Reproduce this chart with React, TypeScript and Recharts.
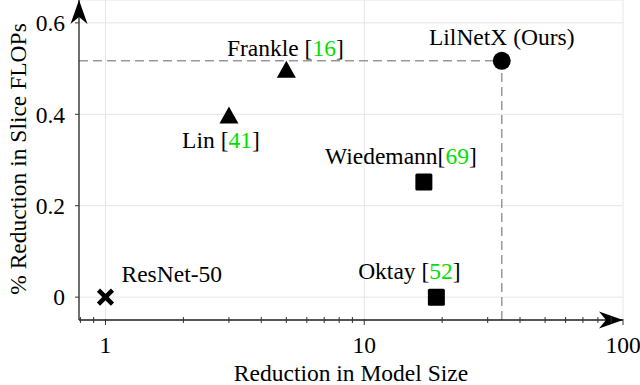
import React from 'react'
import {
  ScatterChart, Scatter, XAxis, YAxis, CartesianGrid, ReferenceLine, ReferenceDot, Label,
} from 'recharts'

// data
const methods = ['ResNet-50', 'Lin ', 'Frankle ', 'Wiedemann', 'Oktay ', 'LilNetX (Ours)']
const citations = ['', '41', '16', '69', '52', '']
const markers = ['cross', 'triangle', 'triangle', 'square', 'square', 'circle']
const modelSizeReduction = [1, 3, 5, 17, 19, 34]
const flopsReduction = [0, 0.395, 0.495, 0.252, 0, 0.517]

const xTicks = [0.8, 0.9, 1, 2, 3, 4, 5, 6, 7, 8, 9, 10, 20, 30, 40, 50, 60, 70, 80, 90, 100]
const xMajorTicks = [1, 10, 100]
const yTicks = [0, 0.2, 0.4, 0.6]

const X_DOMAIN: [number, number] = [0.79, 100]
const Y_DOMAIN: [number, number] = [-0.05, 0.65]

const FONT = 'Liberation Serif, Times New Roman, Times, serif'
const FS = 23.5
const CITE_GREEN = '#00e000'
const txt = { fontFamily: FONT, fontSize: FS }

// where each label sits relative to its marker
const labelPlacement: Record<string, { dx: number; dy: number; anchor: 'start' | 'middle' | 'end' }> = {
  'ResNet-50': { dx: 16, dy: -15, anchor: 'start' },
  'Lin ': { dx: -8, dy: 31, anchor: 'middle' },
  'Frankle ': { dx: -1, dy: -15, anchor: 'middle' },
  'Wiedemann': { dx: -23, dy: -18, anchor: 'middle' },
  'Oktay ': { dx: -27, dy: -18, anchor: 'middle' },
  'LilNetX (Ours)': { dx: 0, dy: -16, anchor: 'middle' },
}

const points = methods.map((m, i) => ({
  x: modelSizeReduction[i],
  y: flopsReduction[i],
  name: m,
  cite: citations[i],
  marker: markers[i],
}))
const ours = points[points.length - 1]

function Marker(props: any) {
  const { cx, cy, payload } = props
  if (cx == null || cy == null) return null
  let shape: React.ReactNode = null
  if (payload.marker === 'cross') {
    shape = (
      <g stroke="#000" strokeWidth={4.5}>
        <line x1={cx - 7} y1={cy - 7} x2={cx + 7} y2={cy + 7} />
        <line x1={cx - 7} y1={cy + 7} x2={cx + 7} y2={cy - 7} />
      </g>
    )
  } else if (payload.marker === 'triangle') {
    shape = <path d={`M${cx},${cy - 10} L${cx + 9.5},${cy + 7} L${cx - 9.5},${cy + 7} Z`} fill="#000" />
  } else if (payload.marker === 'square') {
    shape = <rect x={cx - 8.5} y={cy - 8.5} width={17} height={17} rx={1.5} fill="#000" />
  } else {
    shape = <circle cx={cx} cy={cy} r={9} fill="#000" />
  }
  const p = labelPlacement[payload.name]
  return (
    <g>
      {shape}
      <text x={cx + p.dx} y={cy + p.dy} textAnchor={p.anchor} style={txt} fill="#000">
        {payload.name}
        {payload.cite ? (
          <>
            [<tspan fill={CITE_GREEN}>{payload.cite}</tspan>]
          </>
        ) : null}
      </text>
    </g>
  )
}

function XTick(props: any) {
  const { x, y, payload } = props
  const major = xMajorTicks.includes(payload.value)
  return (
    <g>
      <line x1={x} x2={x} y1={major ? y - 1 : y - 3} y2={major ? y + 5 : y + 3} stroke="#333" strokeWidth={1} />
      {major && (
        <text x={x} y={y + 33} textAnchor="middle" style={txt} fill="#000">
          {payload.value}
        </text>
      )}
    </g>
  )
}

function Arrow(props: any) {
  const { cx, cy, dir } = props
  if (cx == null || cy == null) return null
  const rot = dir === 'up' ? -90 : 0
  return (
    <path
      transform={`translate(${cx},${cy}) rotate(${rot})`}
      d="M0,0 L-24,-8.5 L-17,0 L-24,8.5 Z"
      fill="#000"
    />
  )
}

export default function App() {
  return (
    <div style={{ position: 'absolute', left: 0, top: 0 }}>
      <ScatterChart width={640} height={385} margin={{ top: 0, right: 17, bottom: 0, left: 0 }}>
        <CartesianGrid stroke="#e6e6e6" vertical={false} />
        {xMajorTicks.map((t) => (
          <ReferenceLine key={t} x={t} stroke="#e6e6e6" />
        ))}
        <XAxis
          dataKey="x"
          type="number"
          scale="log"
          domain={X_DOMAIN}
          allowDataOverflow
          ticks={xTicks}
          interval={0}
          tick={<XTick />}
          tickLine={false}
          tickSize={0}
          tickMargin={0}
          height={65}
          axisLine={{ stroke: '#222', strokeWidth: 1.3 }}
        >
          <Label
            content={({ viewBox }: any) => (
              <text x={viewBox.x + viewBox.width / 2} y={381} textAnchor="middle" style={txt} fill="#000">
                Reduction in Model Size
              </text>
            )}
          />
        </XAxis>
        <YAxis
          dataKey="y"
          type="number"
          domain={Y_DOMAIN}
          allowDataOverflow
          ticks={yTicks}
          interval={0}
          width={79}
          tickSize={4}
          tickMargin={10}
          tickFormatter={(v: number) => (v === 0 ? '0' : String(v))}
          tick={{ fill: '#000', fontSize: FS, fontFamily: FONT, style: txt }}
          tickLine={{ stroke: '#333' }}
          axisLine={{ stroke: '#222', strokeWidth: 1.3 }}
        >
          <Label
            content={({ viewBox }: any) => {
              const cx = 18
              const cy = viewBox.y + viewBox.height / 2 - 1
              return (
                <text
                  x={cx}
                  y={cy}
                  transform={`rotate(-90, ${cx}, ${cy})`}
                  textAnchor="middle"
                  dominantBaseline="central"
                  style={txt}
                  fill="#000"
                >
                  % Reduction in Slice FLOPs
                </text>
              )
            }}
          />
        </YAxis>
        <ReferenceLine
          segment={[{ x: X_DOMAIN[0], y: ours.y }, { x: ours.x, y: ours.y }]}
          stroke="#999"
          strokeWidth={1.5}
          strokeDasharray="9 5"
        />
        <ReferenceLine
          segment={[{ x: ours.x, y: Y_DOMAIN[0] }, { x: ours.x, y: ours.y }]}
          stroke="#999"
          strokeWidth={1.5}
          strokeDasharray="9 5"
        />
        <ReferenceDot x={X_DOMAIN[1]} y={Y_DOMAIN[0]} ifOverflow="visible" shape={(p: any) => <Arrow {...p} dir="right" />} />
        <ReferenceDot x={X_DOMAIN[0]} y={Y_DOMAIN[1]} ifOverflow="visible" shape={(p: any) => <Arrow {...p} dir="up" />} />
        <Scatter data={points} isAnimationActive={false} shape={(p: any) => <Marker {...p} />} />
      </ScatterChart>
    </div>
  )
}
